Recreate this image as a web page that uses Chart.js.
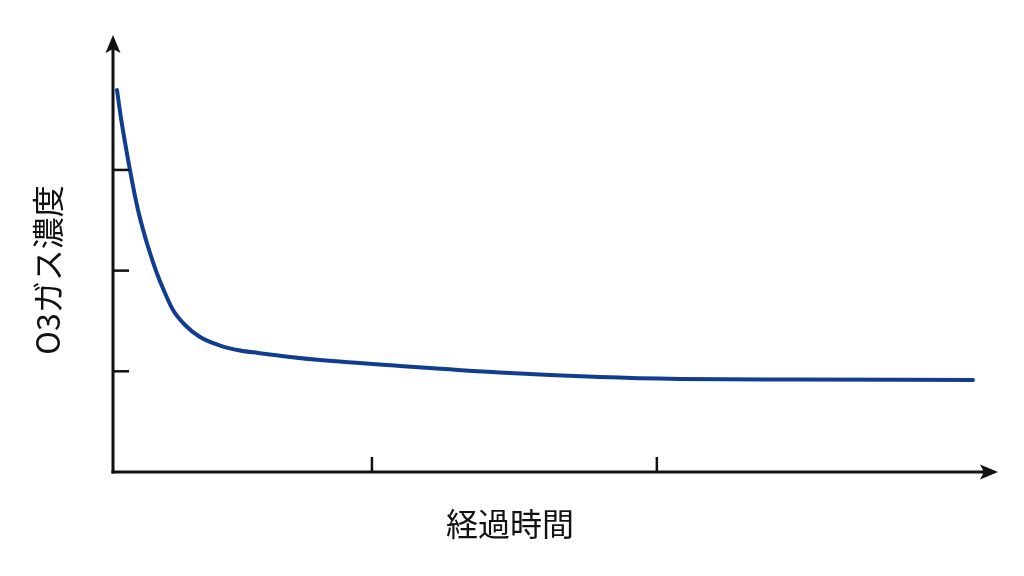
<!DOCTYPE html>
<html>
<head>
<meta charset="utf-8">
<script src="https://cdn.jsdelivr.net/npm/chart.js@4"></script>
<style>
html,body{margin:0;padding:0;background:#ffffff;}
canvas{display:block;}
</style>
</head>
<body>
<canvas id="c" width="1024" height="576"></canvas>
<script>
const timeValues = [0.140, 0.280, 0.595, 0.876, 1.156, 1.401, 1.587, 1.821, 2.102, 2.522, 3.047, 3.748, 4.449, 5.079, 6.200, 7.251, 10.053, 13.556, 17.059, 19.861, 24.064, 30.124];
const o3Values   = [3.793, 3.515, 2.999, 2.602, 2.304, 2.085, 1.936, 1.778, 1.609, 1.460, 1.341, 1.256, 1.207, 1.182, 1.142, 1.112, 1.053, 0.988, 0.943, 0.924, 0.918, 0.914];
const xTickValues = [9.07, 19.05];
const yTickValues = [1, 2, 3];
const xTitle = '経過時間';
const yTitle = 'O3ガス濃度';

const points = timeValues.map((t, i) => ({x: t, y: o3Values[i]}));

const axesPlugin = {
  id: 'axesPlugin',
  afterDraw(chart) {
    const ctx = chart.ctx;
    const xs = chart.scales.x, ys = chart.scales.y;
    const left = xs.getPixelForValue(xs.min), right = xs.getPixelForValue(xs.max);
    const bottom = ys.getPixelForValue(ys.min), top = ys.getPixelForValue(ys.max);
    ctx.save();
    ctx.strokeStyle = '#111111';
    ctx.fillStyle = '#111111';
    ctx.lineWidth = 3;
    ctx.lineCap = 'butt';
    ctx.beginPath(); ctx.moveTo(left, bottom + 1.5); ctx.lineTo(left, top + 12); ctx.stroke();
    ctx.beginPath(); ctx.moveTo(left - 1.5, bottom); ctx.lineTo(right - 12, bottom); ctx.stroke();
    ctx.beginPath(); ctx.moveTo(left, top); ctx.lineTo(left - 7.5, top + 18); ctx.lineTo(left, top + 14); ctx.lineTo(left + 7.5, top + 18); ctx.closePath(); ctx.fill();
    ctx.beginPath(); ctx.moveTo(right, bottom); ctx.lineTo(right - 18, bottom - 7.5); ctx.lineTo(right - 14, bottom); ctx.lineTo(right - 18, bottom + 7.5); ctx.closePath(); ctx.fill();
    ctx.lineWidth = 2.5;
    yTickValues.forEach(v => {
      const py = ys.getPixelForValue(v);
      ctx.beginPath(); ctx.moveTo(left, py); ctx.lineTo(left + 16, py); ctx.stroke();
    });
    xTickValues.forEach(v => {
      const px = xs.getPixelForValue(v);
      ctx.beginPath(); ctx.moveTo(px, bottom); ctx.lineTo(px, bottom - 15); ctx.stroke();
    });
    ctx.fillStyle = '#111111';
    ctx.font = '32px "Noto Sans CJK JP", "Noto Sans", sans-serif';
    ctx.textAlign = 'center';
    ctx.textBaseline = 'middle';
    ctx.fillText(xTitle, 510, 524);
    ctx.translate(48, 270);
    ctx.rotate(-Math.PI / 2);
    ctx.fillText(yTitle, 0, 0);
    ctx.restore();
  }
};

new Chart(document.getElementById('c'), {
  type: 'line',
  data: {
    datasets: [{
      data: points,
      borderColor: '#103d8f',
      borderWidth: 4,
      pointRadius: 0,
      fill: false,
      cubicInterpolationMode: 'monotone',
      borderCapStyle: 'round',
      borderJoinStyle: 'round'
    }]
  },
  options: {
    responsive: false,
    animation: false,
    devicePixelRatio: 1,
    layout: {padding: {left: 113, right: 26, top: 35, bottom: 104}},
    plugins: {legend: {display: false}, tooltip: {enabled: false}},
    scales: {
      x: {type: 'linear', min: 0, max: 31, display: false},
      y: {type: 'linear', min: 0, max: 4.34, display: false}
    }
  },
  plugins: [axesPlugin]
});
</script>
</body>
</html>
